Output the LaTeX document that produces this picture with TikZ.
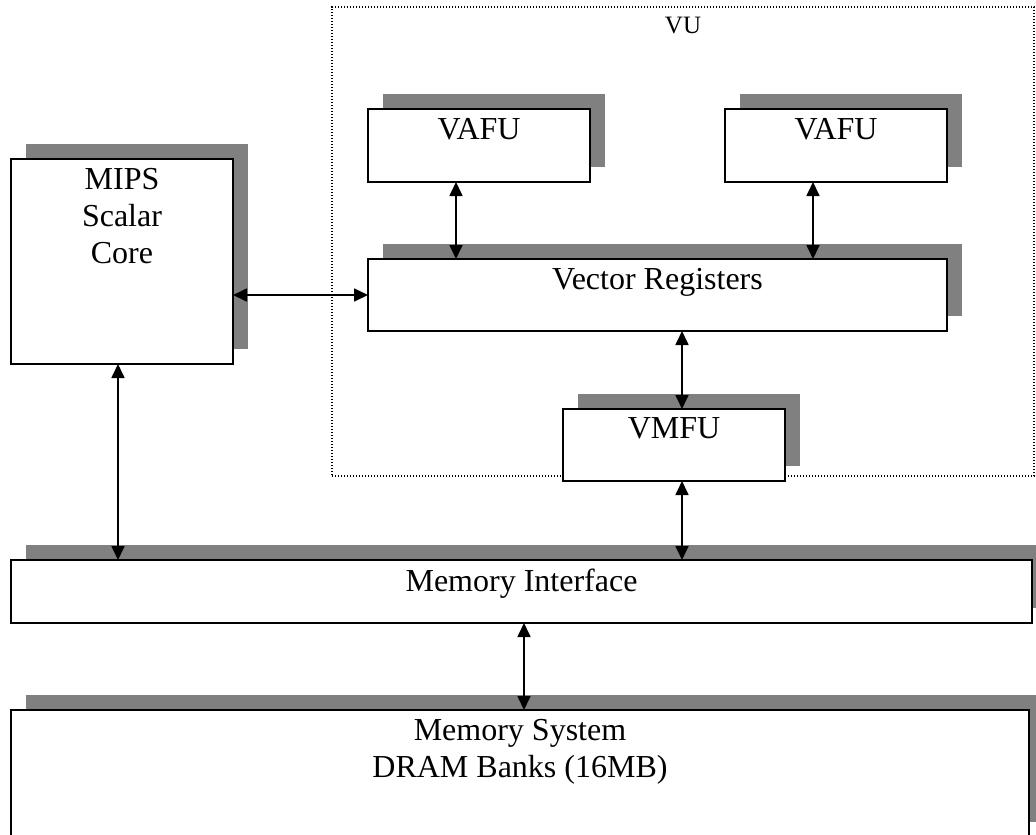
\documentclass[tikz,border=0pt]{standalone}
\usepackage{fontspec}
\setmainfont{Liberation Serif}
\usetikzlibrary{arrows.meta,shadows}
\definecolor{shadowgray}{HTML}{808080}
\begin{document}
\begin{tikzpicture}[x=1pt,y=-1pt,
  box/.style={draw=black, line width=2.2pt, fill=white, rectangle, inner sep=0pt, outer sep=0pt,
    drop shadow={shadow xshift=15pt, shadow yshift=15pt, opacity=1, fill=shadowgray}},
  lbl/.style={inner sep=0pt, outer sep=0pt, anchor=north, align=center, font=\fontsize{32}{37}\selectfont},
  arr/.style={line width=1.7pt, {Triangle[length=14pt,width=13pt]}-{Triangle[length=14pt,width=13pt]}},
  vubox/.style={draw=black, line width=1.3pt, dash pattern=on 1.3pt off 1.7pt, inner sep=0pt, outer sep=0pt}]
\path[use as bounding box, clip] (0,0) rectangle (1036,835);

% VU dotted region
\node[vubox, minimum width=702pt, minimum height=469pt] (vu) at (683,241.5) {};
\node[inner sep=0pt, anchor=north, font=\fontsize{25}{29}\selectfont] (vulbl) at ([yshift=-10pt]vu.north) {VU};

% boxes
\node[box, minimum width=222pt, minimum height=205pt] (mips) at (122,261.5) {};
\node[box, minimum width=222pt, minimum height=73pt] (vafuL) at (479,145.5) {};
\node[box, minimum width=222pt, minimum height=73pt] (vafuR) at (836,145.5) {};
\node[box, minimum width=579pt, minimum height=72pt] (vr) at (657.5,295) {};
\node[box, minimum width=222pt, minimum height=72pt] (vmfu) at (674,445) {};
\node[box, minimum width=1021pt, minimum height=63pt] (mi) at (521.5,591.5) {};
\node[box, minimum width=1018pt, minimum height=127pt] (ms) at (520,773.5) {};

% labels
\node[lbl] (mipslbl) at ([yshift=-9pt]mips.north) {MIPS\\Scalar\\Core};
\node[lbl] (vafuLlbl) at ([yshift=-9pt]vafuL.north) {VAFU};
\node[lbl] (vafuRlbl) at ([yshift=-9pt]vafuR.north) {VAFU};
\node[lbl] (vrlbl) at ([yshift=-9pt]vr.north) {Vector Registers};
\node[lbl] (vmfulbl) at ([yshift=-9pt]vmfu.north) {VMFU};
\node[lbl] (milbl) at ([yshift=-9pt]mi.north) {Memory Interface};
\node[lbl] (mslbl) at ([yshift=-9pt]ms.north) {Memory System\\DRAM Banks (16MB)};

% connectors
\draw[arr] (vr.west -| mips.east) -- (vr.west);
\draw[arr] ([xshift=-23pt]vafuL.south) -- ([xshift=-23pt]vafuL.south |- vr.north);
\draw[arr] ([xshift=-23pt]vafuR.south) -- ([xshift=-23pt]vafuR.south |- vr.north);
\draw[arr] ([xshift=8pt]vmfu.north |- vr.south) -- ([xshift=8pt]vmfu.north);
\draw[arr] ([xshift=8pt]vmfu.south) -- ([xshift=8pt]vmfu.south |- mi.north);
\draw[arr] ([xshift=-4pt]mips.south) -- ([xshift=-4pt]mips.south |- mi.north);
\draw[arr] ([xshift=2.5pt]mi.south) -- ([xshift=2.5pt]mi.south |- ms.north);
\end{tikzpicture}
\end{document}
